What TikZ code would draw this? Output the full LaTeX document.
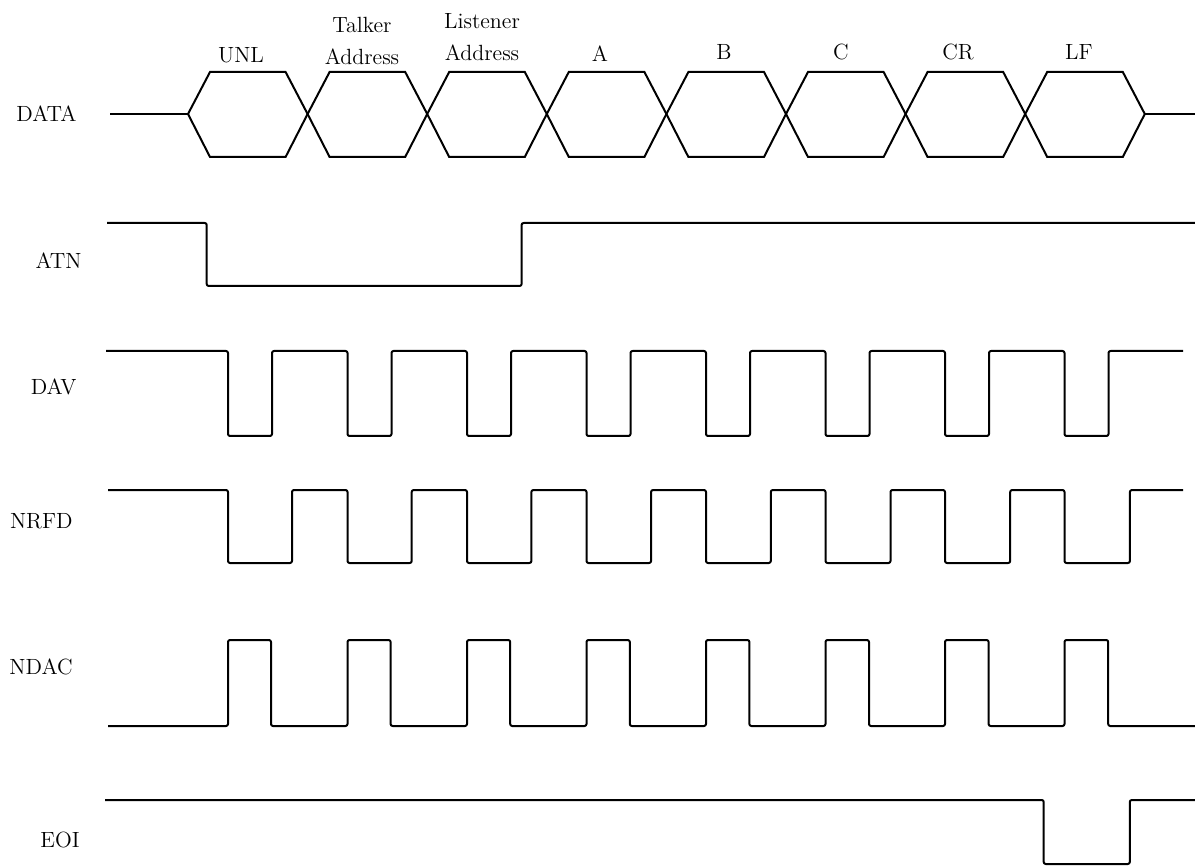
\documentclass[tikz,border=0pt]{standalone}
\usepackage{tikz}
\begin{document}
\begin{tikzpicture}[
    x=0.5pt, y=-0.5pt,
    wave/.style={line width=1pt, line join=round, rounded corners=1pt},
    hexwave/.style={line width=1pt, line join=miter},
    signame/.style={anchor=east, inner sep=0pt, font=\fontsize{11}{13}\selectfont},
    bytename/.style={align=center, inner sep=0pt, font=\fontsize{11}{16}\selectfont}
]
\useasboundingbox (0,0) rectangle (1195,866);

\node[signame] (data) at (77,114) {DATA};
\node[signame] (atn) at (82,261) {ATN};
\node[signame] (dav) at (77,387) {DAV};
\node[signame] (nrfd) at (73,521) {NRFD};
\node[signame] (ndac) at (73,667) {NDAC};
\node[signame] (eoi) at (80,840) {EOI};

\node[bytename] (unl) at (241,55) {UNL};
\node[bytename] (talker) at (362,41) {Talker\\Address};
\node[bytename] (listener) at (482,37) {Listener\\Address};
\foreach \txt/\x/\y in {A/600/54, B/724/52, C/841/52, CR/958/52, LF/1079/52}
    \node[bytename] (byte\txt) at (\x,\y) {\txt};

\draw[hexwave] (110,114) -- (188,114);
\foreach \k in {0,...,7}{
    \pgfmathsetmacro\xa{188+119.6*\k}
    \pgfmathsetmacro\xb{\xa+119.6}
    \draw[hexwave] (\xa,114) -- (\xa+22,72) -- (\xb-22,72) -- (\xb,114)
        -- (\xb-22,157) -- (\xa+22,157) -- cycle;
}
\draw[hexwave] (1144.8,114) -- (1195,114);

\draw[wave] (107,223) -- (206.7,223) -- (206.7,286) -- (521.6,286) -- (521.6,223) -- (1195,223);

\draw[wave] (106,351) foreach \k in {0,...,7}{
    -- ({228+119.5*\k},351) -- ({228+119.5*\k},436)
    -- ({272+119.5*\k},436) -- ({272+119.5*\k},351)} -- (1183,351);

\draw[wave] (108,490) foreach \k in {0,...,7}{
    -- ({228+119.5*\k},490) -- ({228+119.5*\k},563)
    -- ({292+119.7*\k},563) -- ({292+119.7*\k},490)} -- (1183,490);

\draw[wave] (108,726) foreach \k in {0,...,7}{
    -- ({228+119.5*\k},726) -- ({228+119.5*\k},640)
    -- ({271+119.6*\k},640) -- ({271+119.6*\k},726)} -- (1195,726);

\draw[wave] (105,800) -- (1043.7,800) -- (1043.7,864) -- (1129.8,864) -- (1129.8,800) -- (1195,800);
\end{tikzpicture}
\end{document}
